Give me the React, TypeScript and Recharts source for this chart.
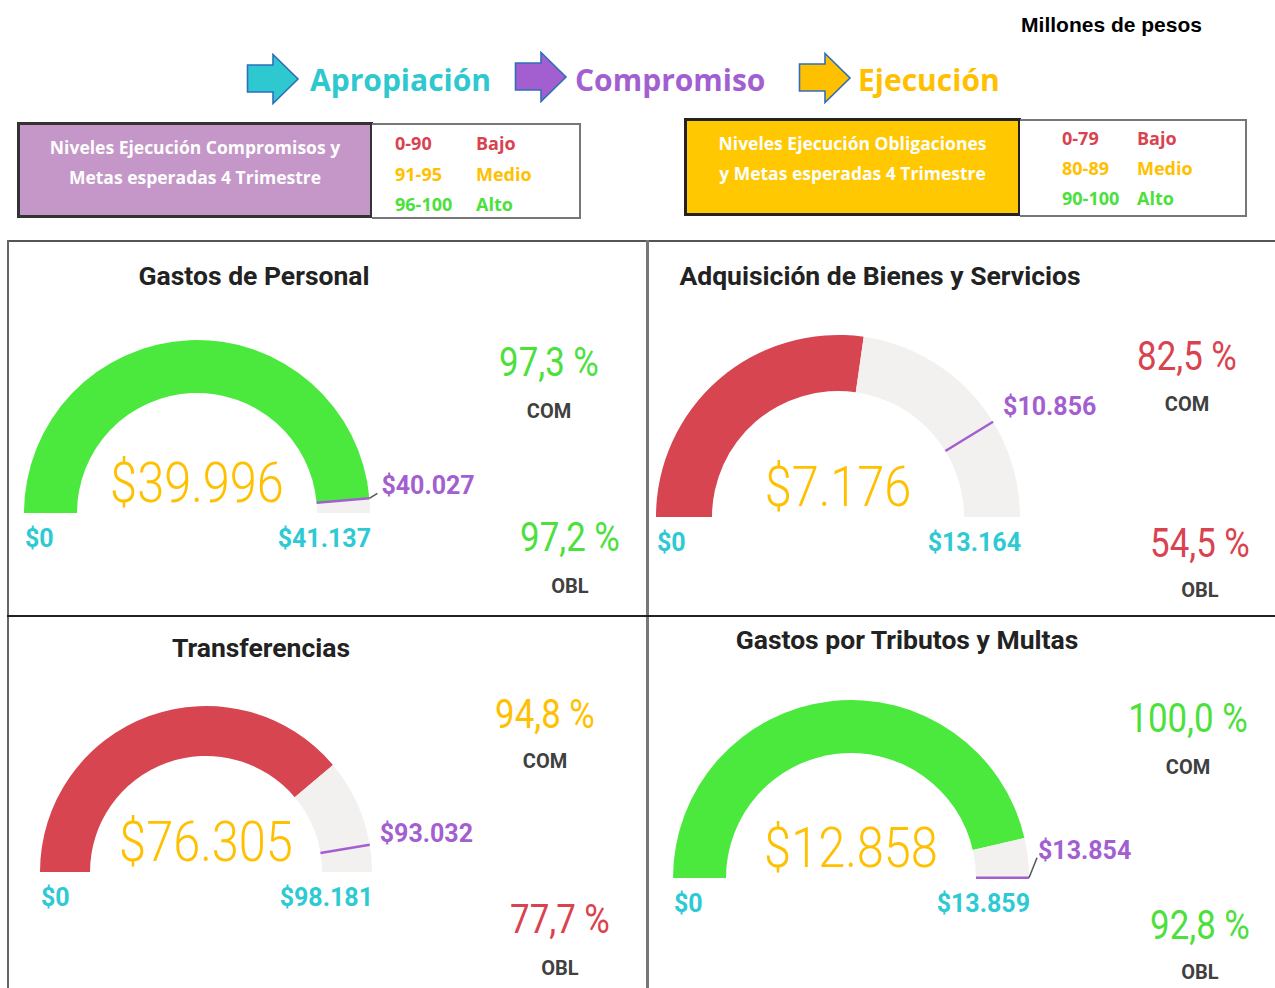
import React from 'react';
import { PieChart, Pie, Cell } from 'recharts';

// Millones de pesos por rubro
const categories = ['Gastos de Personal', 'Adquisición de Bienes y Servicios', 'Transferencias', 'Gastos por Tributos y Multas'];
const apropiacion = [41137, 13164, 98181, 13859];
const compromiso = [40027, 10856, 93032, 13854];
const ejecucion = [39996, 7176, 76305, 12858];

const comLevelRanges = ['0-90', '91-95', '96-100'];
const comLevelMax = [90, 95, 100];
const oblLevelRanges = ['0-79', '80-89', '90-100'];
const oblLevelMax = [79, 89, 100];
const levelNames = ['Bajo', 'Medio', 'Alto'];
const levelColors = ['#D9434F', '#FFC000', '#4CE03C'];

const GAUGE_FILL = ['#D64550', '#FFC000', '#4BE83E'];
const TRACK = '#F2F1F0';
const TEAL = '#2ECAD4';
const PURPLE = '#A35FD0';
const YELLOW = '#FFC000';

const NUM_FONT = 'Roboto, "Noto Sans", sans-serif';
const UI_FONT = '"Open Sans", "Noto Sans", sans-serif';

// panel positions and gauge geometry (px)
const layout = [
  { left: 9, top: 242, cx: 188, cy: 271, R: 173, r: 120, title: [245, 34], com: [540, 120, 169], obl: [561, 295, 344], tDx: 12, tDy: -13, leader: [8, -5] },
  { left: 649, top: 242, cx: 189, cy: 275, R: 182, r: 126, title: [231, 34], com: [538, 114, 162], obl: [551, 301, 348], tDx: 10, tDy: -15, leader: null },
  { left: 9, top: 617, cx: 197, cy: 255, R: 166, r: 116, title: [252, 31], com: [536, 97, 144], obl: [551, 302, 351], tDx: 10, tDy: -11, leader: null },
  { left: 649, top: 617, cx: 202, cy: 261, R: 178, r: 125, title: [258, 23], com: [539, 101, 150], obl: [551, 308, 355], tDx: 9, tDy: -27, leader: [8, -20] },
];

const money = (v: number) => '$' + String(v).replace(/\B(?=(\d{3})+(?!\d))/g, '.');
const pctText = (p: number) => p.toFixed(1).replace('.', ',') + ' %';
const levelIndex = (p: number, maxes: number[]) => {
  const r = Math.round(p);
  const idx = maxes.findIndex((m) => r <= m);
  return idx < 0 ? maxes.length - 1 : idx;
};
const polar = (cx: number, cy: number, rad: number, angle: number) => ({
  x: cx + rad * Math.cos((-angle * Math.PI) / 180),
  y: cy + rad * Math.sin((-angle * Math.PI) / 180),
});

const Txt = ({ x, y, children, size, color, weight = 400, font = UI_FONT, anchor = 'middle', sx = 1 }: any) => {
  const tx = anchor === 'middle' ? '-50%' : anchor === 'end' ? '-100%' : '0';
  const origin = anchor === 'middle' ? 'center' : anchor === 'end' ? 'right' : 'left';
  return (
    <div
      style={{
        position: 'absolute', left: x, top: y, whiteSpace: 'nowrap', fontFamily: font, fontSize: size,
        fontWeight: weight, color, lineHeight: 1, transform: `translate(${tx}, -50%) scaleX(${sx})`, transformOrigin: origin,
      }}
    >
      {children}
    </div>
  );
};

const Arrow = ({ x, y, fill }: { x: number; y: number; fill: string }) => (
  <svg width={54} height={52} style={{ position: 'absolute', left: x, top: y }}>
    <polygon points="1.5,12 27,12 27,1.5 52,26 27,50.5 27,39 1.5,39" fill={fill} stroke="#2F6EBA" strokeWidth={1.6} />
  </svg>
);

const Gauge = ({ i }: { i: number }) => {
  const L = layout[i];
  const max = apropiacion[i];
  const val = ejecucion[i];
  const tgt = compromiso[i];
  const oblPct = (val / max) * 100;
  const fill = GAUGE_FILL[levelIndex(oblPct, oblLevelMax)];
  const gaugeData = [{ name: 'Ejecución', value: val }, { name: 'Resto', value: max - val }];
  const targetData = [{ name: 'Compromiso', value: tgt }, { name: 'Resto', value: max - tgt }];

  const valueLabels = (p: any) => {
    if (p.index !== 0) return null;
    const { cx, cy, outerRadius } = p;
    return (
      <g>
        <text transform={`translate(${cx} ${cy - 30}) scale(0.87 1)`} textAnchor="middle" dominantBaseline="central"
          fontFamily={NUM_FONT} fontWeight={300} fontSize={56} fill={YELLOW}>{money(val)}</text>
        <text x={cx - outerRadius + 1} y={cy + 25} dominantBaseline="central" fontFamily={NUM_FONT} fontWeight={700}
          fontSize={25} fill={TEAL}>$0</text>
        <text x={cx + outerRadius + 1} y={cy + 25} textAnchor="end" dominantBaseline="central" fontFamily={NUM_FONT}
          fontWeight={700} fontSize={25} fill={TEAL}>{money(max)}</text>
      </g>
    );
  };

  const targetMarker = (p: any) => {
    if (p.index !== 0) return null;
    const { cx, cy, innerRadius, outerRadius, endAngle } = p;
    const a = polar(cx, cy, innerRadius, endAngle);
    const b = polar(cx, cy, outerRadius, endAngle);
    return (
      <g>
        <line x1={a.x} y1={a.y} x2={b.x} y2={b.y} stroke={PURPLE} strokeWidth={2.5} />
        {L.leader && (
          <line x1={b.x} y1={b.y} x2={b.x + L.leader[0]} y2={b.y + L.leader[1]} stroke="#555" strokeWidth={1.5} />
        )}
        <text x={b.x + L.tDx} y={b.y + L.tDy} dominantBaseline="central" fontFamily={NUM_FONT} fontWeight={700}
          fontSize={25} fill={PURPLE}>{money(tgt)}</text>
      </g>
    );
  };

  return (
    <div style={{ position: 'absolute', left: L.left, top: L.top, width: 620, height: 360 }}>
      <PieChart width={620} height={360} margin={{ top: 0, right: 0, bottom: 0, left: 0 }}>
        <Pie data={gaugeData} dataKey="value" cx={L.cx} cy={L.cy} innerRadius={L.r} outerRadius={L.R}
          startAngle={180} endAngle={0} stroke="none" isAnimationActive={false} labelLine={false} label={valueLabels}>
          <Cell fill={fill} />
          <Cell fill={TRACK} />
        </Pie>
        <Pie data={targetData} dataKey="value" cx={L.cx} cy={L.cy} innerRadius={L.r} outerRadius={L.R}
          startAngle={180} endAngle={0} stroke="none" fill="transparent" isAnimationActive={false} labelLine={false}
          label={targetMarker}>
          <Cell fill="transparent" />
          <Cell fill="transparent" />
        </Pie>
      </PieChart>
    </div>
  );
};

const Panel = ({ i }: { i: number }) => {
  const L = layout[i];
  const comPct = (compromiso[i] / apropiacion[i]) * 100;
  const oblPct = (ejecucion[i] / apropiacion[i]) * 100;
  return (
    <>
      <Gauge i={i} />
      <div style={{ position: 'absolute', left: L.left, top: L.top }}>
        <Txt x={L.title[0]} y={L.title[1]} size={26.5} weight={700} font={NUM_FONT} color="#222">{categories[i]}</Txt>
        <Txt x={L.com[0]} y={L.com[1]} size={41} weight={400} font={NUM_FONT} sx={0.85}
          color={levelColors[levelIndex(comPct, comLevelMax)]}>{pctText(comPct)}</Txt>
        <Txt x={L.com[0]} y={L.com[2]} size={20} weight={700} font={NUM_FONT} color="#404040">COM</Txt>
        <Txt x={L.obl[0]} y={L.obl[1]} size={41} weight={400} font={NUM_FONT} sx={0.85}
          color={levelColors[levelIndex(oblPct, oblLevelMax)]}>{pctText(oblPct)}</Txt>
        <Txt x={L.obl[0]} y={L.obl[2]} size={20} weight={700} font={NUM_FONT} color="#404040">OBL</Txt>
      </div>
    </>
  );
};

const LevelsBox = ({ x, y, w, h, fill, border, lines, listX, listW, ranges, rowY, colX }: any) => (
  <>
    <div style={{ position: 'absolute', left: x, top: y, width: w, height: h, background: fill, border: `3px solid ${border}`, boxSizing: 'border-box' }} />
    <div style={{ position: 'absolute', left: listX, top: y + 1, width: listW, height: h, border: '2px solid #777', borderLeft: 'none', boxSizing: 'border-box', background: '#fff' }} />
    {lines.map((t: string, k: number) => (
      <Txt key={t} x={x + w / 2} y={y + 26 + k * 30} size={17.5} weight={700} color="#fff">{t}</Txt>
    ))}
    {ranges.map((r: string, k: number) => (
      <React.Fragment key={r}>
        <Txt x={colX[0]} y={rowY[k]} anchor="start" size={18} weight={700} color={levelColors[k]}>{r}</Txt>
        <Txt x={colX[1]} y={rowY[k]} anchor="start" size={18} weight={700} color={levelColors[k]}>{levelNames[k]}</Txt>
      </React.Fragment>
    ))}
  </>
);

export default function App() {
  return (
    <div style={{ position: 'absolute', left: 0, top: 0, width: 1275, height: 988, background: '#fff', overflow: 'hidden' }}>
      <Txt x={1202} y={24} anchor="end" size={21} weight={700} font='"Liberation Sans", Arial, sans-serif' color="#000">Millones de pesos</Txt>

      <Arrow x={246} y={53} fill="#2EC8D0" />
      <Txt x={310} y={80} anchor="start" size={30} weight={700} color="#2EC8D0">Apropiación</Txt>
      <Arrow x={514} y={51} fill="#A35FD0" />
      <Txt x={575} y={80} anchor="start" size={30} weight={700} color="#A35FD0">Compromiso</Txt>
      <Arrow x={798} y={52} fill="#FFC000" />
      <Txt x={858} y={80} anchor="start" size={30} weight={700} color="#FFC000">Ejecución</Txt>

      <LevelsBox x={17} y={122} w={356} h={96} fill="#C497C8" border="#333" listX={372} listW={209}
        lines={['Niveles Ejecución Compromisos y', 'Metas esperadas 4 Trimestre']}
        ranges={comLevelRanges} rowY={[143, 174, 204]} colX={[395, 476]} />
      <LevelsBox x={684} y={118} w={337} h={98} fill="#FFC800" border="#222" listX={1020} listW={227}
        lines={['Niveles Ejecución Obligaciones', 'y Metas esperadas 4 Trimestre']}
        ranges={oblLevelRanges} rowY={[138, 168, 198]} colX={[1062, 1137]} />

      {/* panel grid */}
      <div style={{ position: 'absolute', left: 7, top: 240, width: 1268, height: 2, background: '#555' }} />
      <div style={{ position: 'absolute', left: 7, top: 240, width: 2, height: 748, background: '#666' }} />
      <div style={{ position: 'absolute', left: 646, top: 240, width: 3, height: 748, background: '#777' }} />
      <div style={{ position: 'absolute', left: 7, top: 615, width: 1268, height: 2, background: '#222' }} />

      {categories.map((c, i) => (
        <Panel key={c} i={i} />
      ))}
    </div>
  );
}
